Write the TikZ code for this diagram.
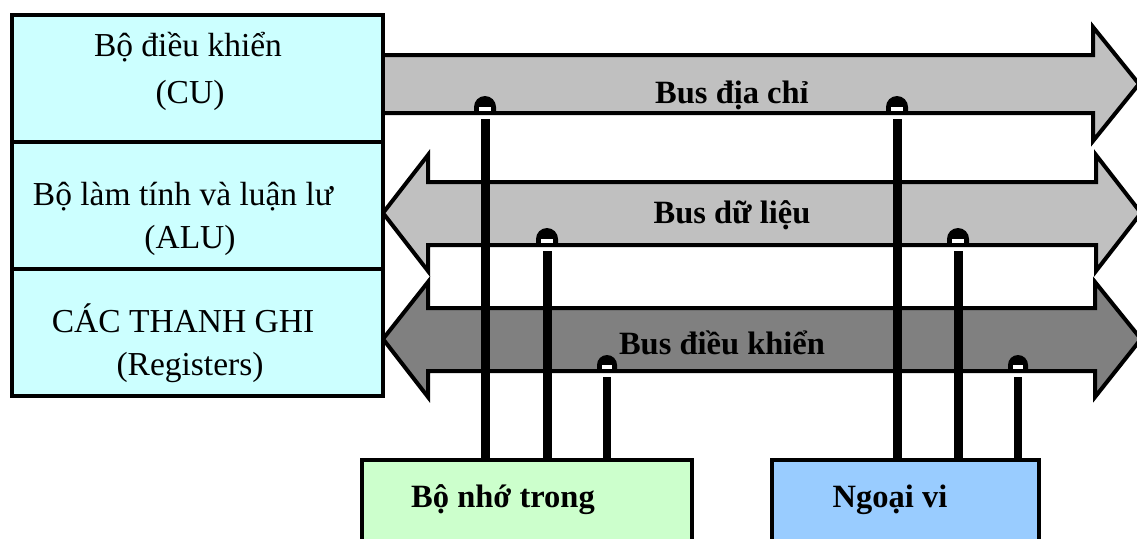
\documentclass[tikz,border=0pt]{standalone}
\usepackage{fontspec}
\setmainfont{Liberation Serif}
\usepackage{tikz}

\definecolor{unitCyan}{HTML}{CCFFFF}
\definecolor{memGreen}{HTML}{CCFFCC}
\definecolor{periphBlue}{HTML}{99CCFF}
\definecolor{busLight}{HTML}{C0C0C0}
\definecolor{busDark}{HTML}{808080}

\begin{document}
\begin{tikzpicture}[x=1pt, y=-1pt,
    unit/.style={draw, line width=4pt, fill=unitCyan, anchor=north west, inner sep=0pt,
        minimum width=371pt, minimum height=127pt},
    device/.style={draw, line width=4pt, anchor=north west, inner sep=0pt, minimum height=110pt},
    bus/.style={draw, line width=4pt, line join=miter},
    txt/.style={font=\fontsize{33.5}{33.5}\selectfont, inner sep=0pt},
    btxt/.style={font=\fontsize{32.5}{32.5}\selectfont\bfseries, inner sep=0pt}]
        \clip (0,0) rectangle (1137,538);

        % Draw the three buses
        \draw[bus, fill=busLight] (381,55) -- (1093,55) -- (1093,27) -- (1139,84)
            -- (1093,141) -- (1093,113) -- (381,113) -- cycle;
        \draw[bus, fill=busLight] (383,213) -- (428,155) -- (428,182) -- (1096,182)
            -- (1096,155) -- (1141,213) -- (1096,271) -- (1096,245) -- (428,245)
            -- (428,271) -- cycle;
        \draw[bus, fill=busDark] (383,339) -- (428,282) -- (428,308) -- (1095,308)
            -- (1095,282) -- (1141,339) -- (1095,397) -- (1095,371) -- (428,371)
            -- (428,397) -- cycle;

        % Lower edges of the buses
        \coordinate (addrEdge) at (0,113);
        \coordinate (dataEdge) at (0,245);
        \coordinate (ctrlEdge) at (0,371);

        % Bus labels
        \node[btxt] (addrLabel) at (732,95) {Bus địa chỉ};
        \node[btxt] (dataLabel) at (732,215) {Bus dữ liệu};
        \node[btxt] (ctrlLabel) at (722,343) {Bus điều khiển};

        % Memory and peripherals
        \node[device, fill=memGreen, minimum width=330pt] (mem) at (360,458) {};
        \node[device, fill=periphBlue, minimum width=267pt] (periph) at (770,458) {};
        \node[btxt] (memText) at (503,500) {Bộ nhớ trong};
        \node[btxt] (periphText) at (890,500) {Ngoại vi};

        % Taps from the devices onto the buses
        \foreach \xx/\edge/\dev/\w/\r/\s in {485/addrEdge/mem/9/11/6, 547/dataEdge/mem/9/11/6,
            607/ctrlEdge/mem/8/10/5, 897/addrEdge/periph/9/11/6,
            958/dataEdge/periph/9/11/6, 1018/ctrlEdge/periph/8/10/5} {
            \coordinate (tap) at (\xx,0);
            \draw[line width=\w pt] (\dev.north -| tap) -- ([yshift=-6pt]\edge -| tap);
            \fill ([xshift=-\r pt]\edge -| tap) -- ++(0pt,6pt)
                arc[start angle=180, end angle=0, radius=\r pt]
                -- ([xshift=\r pt]\edge -| tap) -- cycle;
            \fill[white] ([xshift=-\s pt, yshift=2pt]\edge -| tap)
                rectangle ([xshift=\s pt, yshift=6pt]\edge -| tap);
        }

        % Draw the processor units
        \node[unit] (cu) at (10,13) {};
        \node[unit] (alu) at (10,140) {};
        \node[unit] (reg) at (10,267) {};
        \node[txt] (cuName) at (188,47) {Bộ điều khiển};
        \node[txt] (cuAbbr) at (190,95) {(CU)};
        \node[txt] (aluName) at (183,197) {Bộ làm tính và luận lư};
        \node[txt] (aluAbbr) at (190,240) {(ALU)};
        \node[txt] (regName) at (183,318) {CÁC THANH GHI};
        \node[txt] (regAbbr) at (190,367) {(Registers)};
    \end{tikzpicture}
\end{document}
